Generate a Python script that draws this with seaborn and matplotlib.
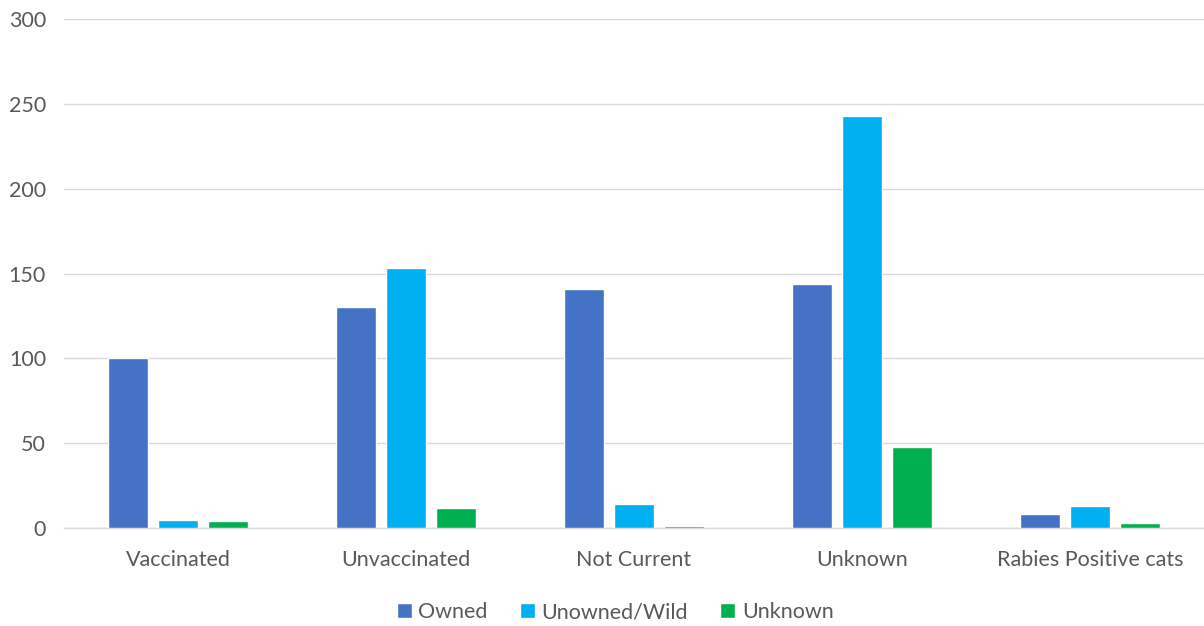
import matplotlib
matplotlib.use("Agg")
import matplotlib.pyplot as plt
import pandas as pd
import seaborn as sns
from matplotlib.patches import Patch

categories = ["Vaccinated", "Unvaccinated", "Not Current", "Unknown", "Rabies Positive cats"]
series = ["Owned", "Unowned/Wild", "Unknown"]
owned = [100, 130, 141, 144, 8]
unowned = [5, 153, 14, 243, 13]
unknown = [4, 12, 1, 48, 3]
colors = ["#4472C4", "#00B0F0", "#00B050"]

rows = []
for vals, name in zip([owned, unowned, unknown], series):
    for cat, v in zip(categories, vals):
        rows.append({"category": cat, "series": name, "value": v})
df = pd.DataFrame(rows)

sns.set_style("white")
plt.rcParams["font.family"] = ["Lato", "DejaVu Sans"]

fig = plt.figure(figsize=(12.04, 6.26), dpi=100)
ax = fig.add_axes([64 / 1204, 98 / 626, 1 - 64 / 1204, 509 / 626])

sns.barplot(data=df, x="category", y="value", hue="series", order=categories,
            hue_order=series, palette=colors, width=0.658, gap=0.2,
            saturation=1, ax=ax, legend=False, zorder=3)

ax.set_ylim(0, 300)
ax.set_xlim(-0.5, 4.5)
ax.set_yticks(range(0, 301, 50))
ax.yaxis.grid(True, color="#d9d9d9", linewidth=1, zorder=0)
ax.set_axisbelow(True)
for s in ["top", "right", "left"]:
    ax.spines[s].set_visible(False)
ax.spines["bottom"].set_color("#d9d9d9")
ax.spines["bottom"].set_linewidth(1)
ax.tick_params(axis="both", length=0, labelsize=15.5, colors="#595959")
ax.tick_params(axis="x", pad=16)
ax.tick_params(axis="y", pad=13)
ax.set_xlabel("")
ax.set_ylabel("")

handles = [Patch(facecolor=c, label=n) for c, n in zip(colors, series)]
fig.legend(handles=handles, loc="lower center", ncol=3, frameon=False,
           bbox_to_anchor=(0.511, -0.025), fontsize=15.5, handlelength=0.7,
           handleheight=0.7, handletextpad=0.3, columnspacing=1.5,
           labelcolor="#595959")

fig.savefig("out.png", dpi=100)
